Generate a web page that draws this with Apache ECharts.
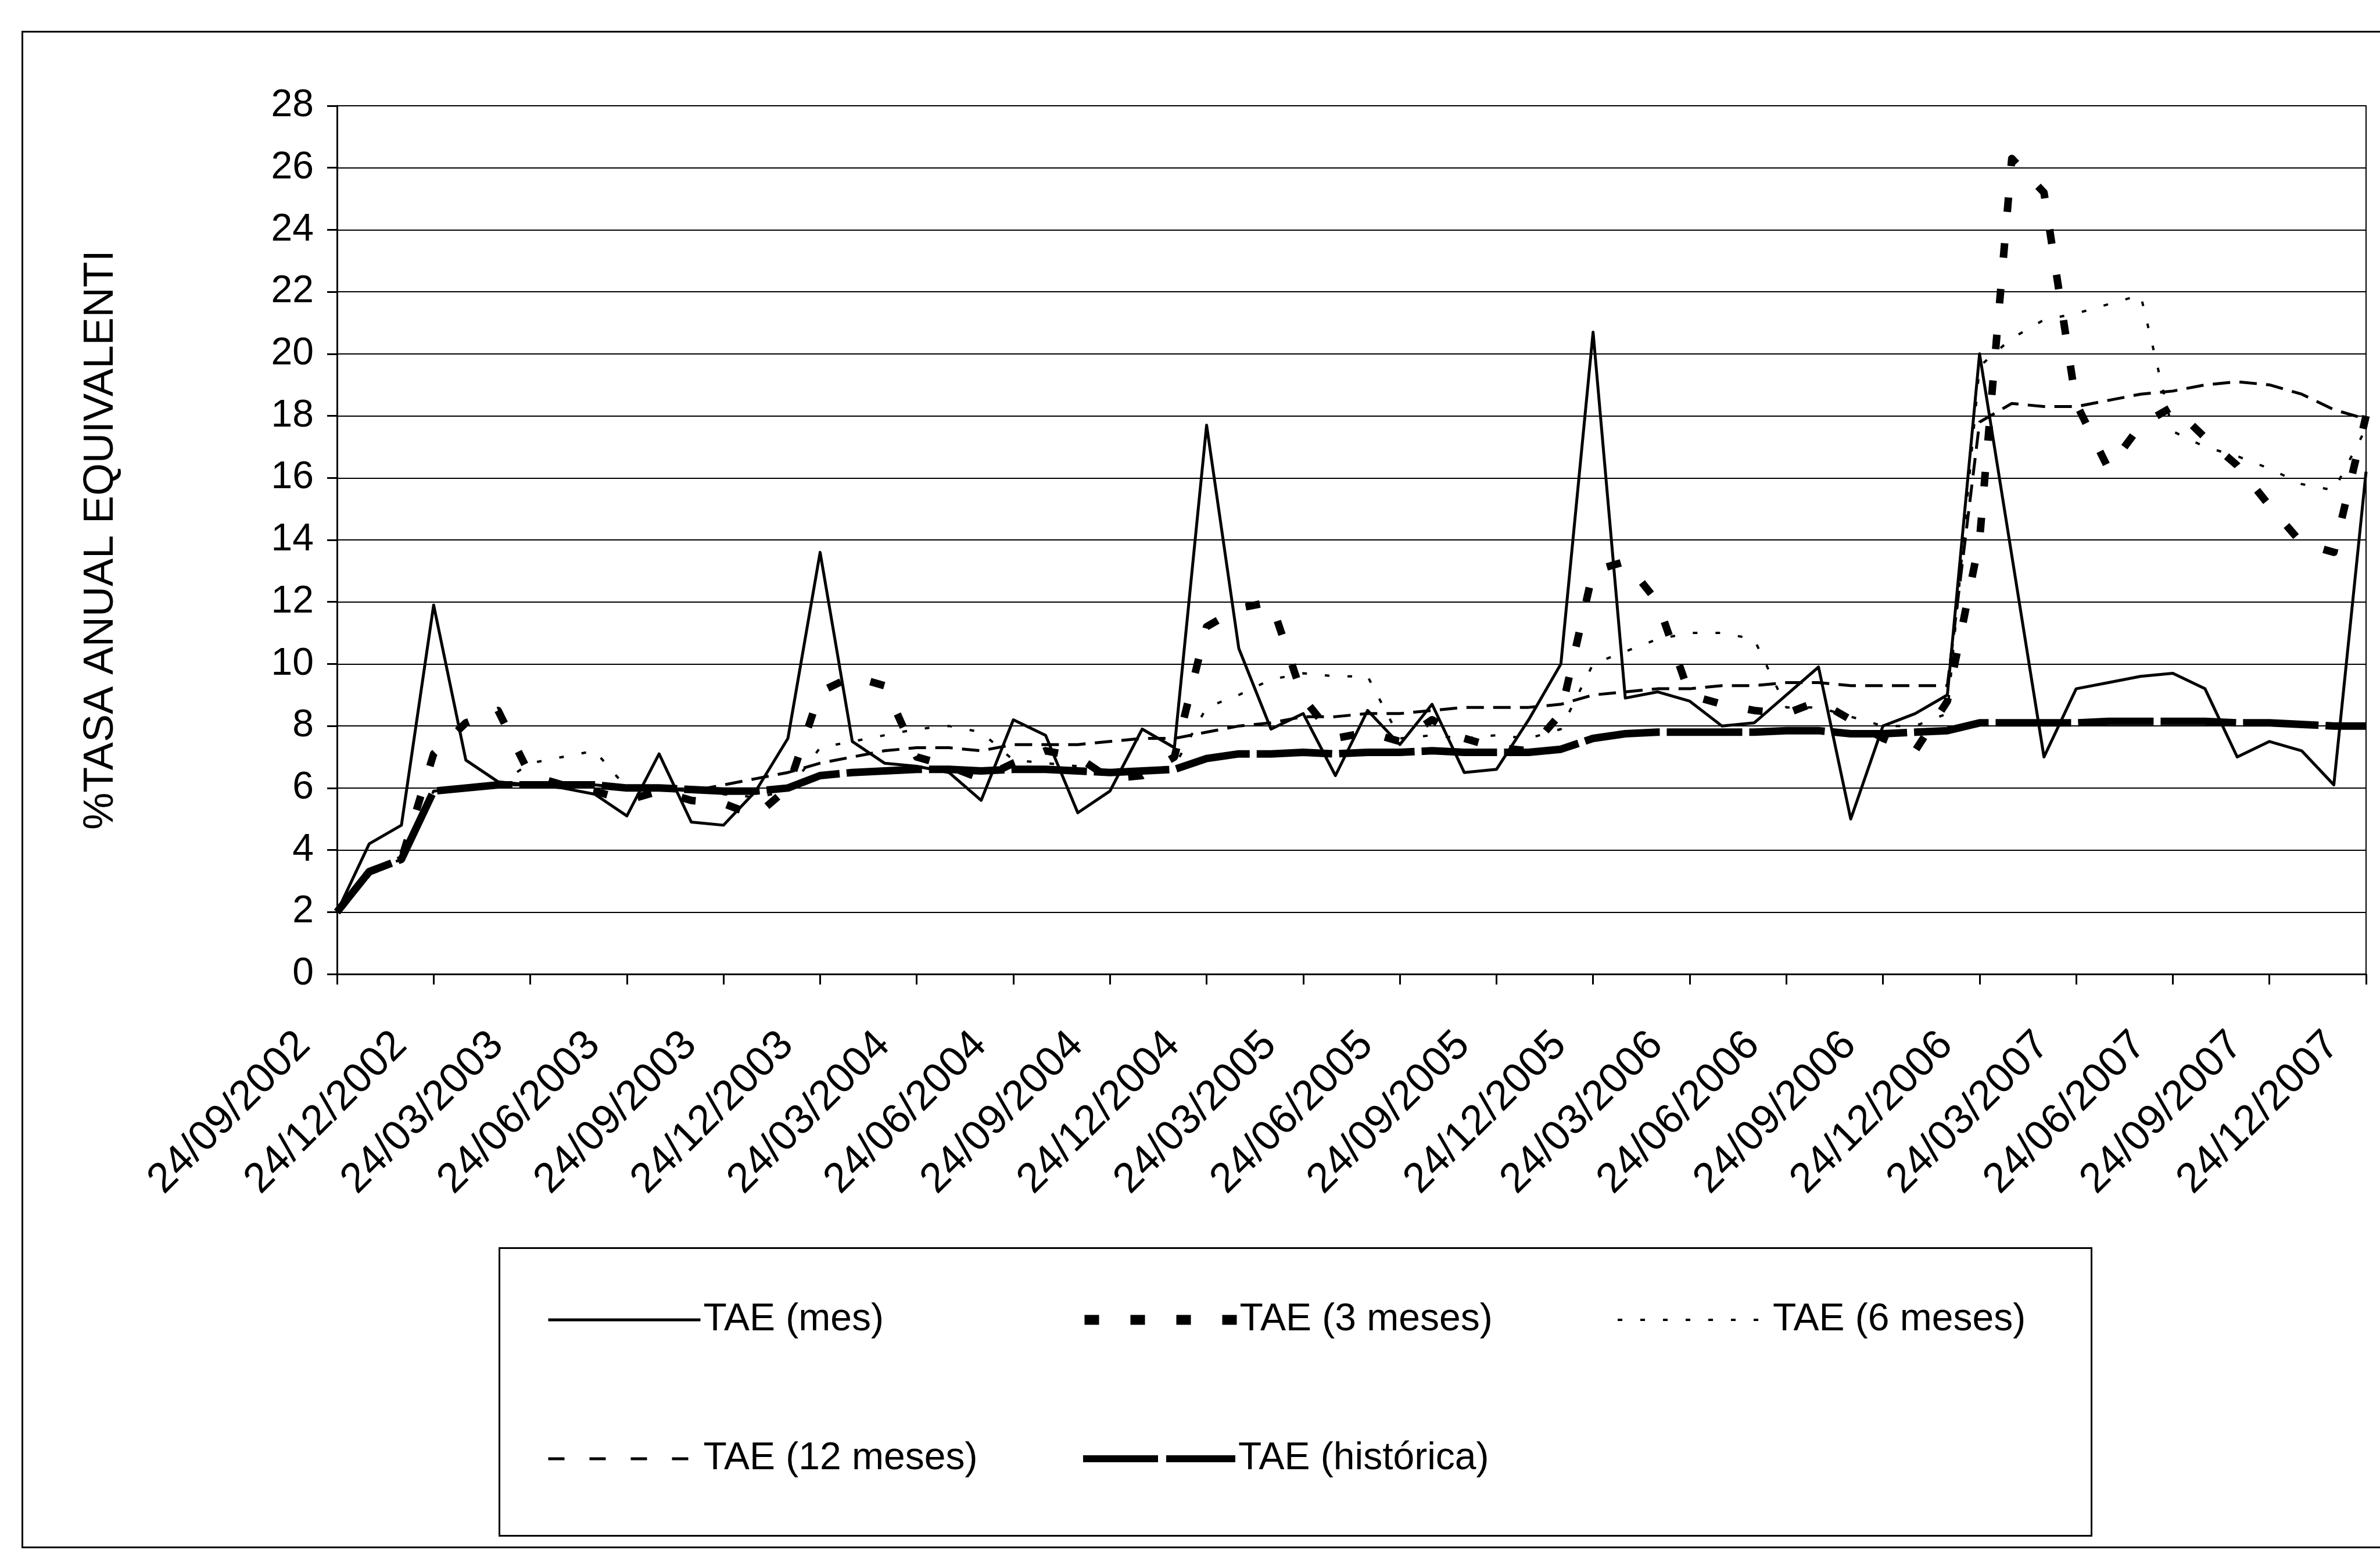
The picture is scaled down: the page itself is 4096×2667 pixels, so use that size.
<!DOCTYPE html>
<html>
<head>
<meta charset="utf-8">
<title>TAE</title>
<script src="https://cdn.jsdelivr.net/npm/echarts@6/dist/echarts.min.js"></script>
<style>
  html, body { margin: 0; padding: 0; background: #fff; }
  #main { width: 4096px; height: 2667px; }
</style>
</head>
<body>
<div id="main"></div>
<script>
// fechas mensuales (eje de categorías)
const fechas = [
  '24/09/2002', '24/10/2002', '24/11/2002', '24/12/2002',
  '24/01/2003', '24/02/2003', '24/03/2003', '24/04/2003', '24/05/2003', '24/06/2003',
  '24/07/2003', '24/08/2003', '24/09/2003', '24/10/2003', '24/11/2003', '24/12/2003',
  '24/01/2004', '24/02/2004', '24/03/2004', '24/04/2004', '24/05/2004', '24/06/2004',
  '24/07/2004', '24/08/2004', '24/09/2004', '24/10/2004', '24/11/2004', '24/12/2004',
  '24/01/2005', '24/02/2005', '24/03/2005', '24/04/2005', '24/05/2005', '24/06/2005',
  '24/07/2005', '24/08/2005', '24/09/2005', '24/10/2005', '24/11/2005', '24/12/2005',
  '24/01/2006', '24/02/2006', '24/03/2006', '24/04/2006', '24/05/2006', '24/06/2006',
  '24/07/2006', '24/08/2006', '24/09/2006', '24/10/2006', '24/11/2006', '24/12/2006',
  '24/01/2007', '24/02/2007', '24/03/2007', '24/04/2007', '24/05/2007', '24/06/2007',
  '24/07/2007', '24/08/2007', '24/09/2007', '24/10/2007', '24/11/2007', '24/12/2007'
]

const taeMes = [
  2.0, 4.2, 4.8, 11.9, 6.9, 6.2, 6.1, 6.0, 5.8, 5.1,
  7.1, 4.9, 4.8, 5.9, 7.6, 13.6, 7.5, 6.8, 6.7, 6.5,
  5.6, 8.2, 7.7, 5.2, 5.9, 7.9, 7.3, 17.7, 10.5, 7.9,
  8.4, 6.4, 8.5, 7.4, 8.7, 6.5, 6.6, 8.2, 10.0, 20.7,
  8.9, 9.1, 8.8, 8.0, 8.1, 9.0, 9.9, 5.0, 8.0, 8.4,
  9.0, 20.0, 13.5, 7.0, 9.2, 9.4, 9.6, 9.7, 9.2, 7.0,
  7.5, 7.2, 6.1, 16.2
]

const tae3Meses = [
  2.0, 3.3, 3.7, 7.1, 8.1, 8.5, 6.4, 6.1, 5.9, 5.6,
  5.9, 5.6, 5.5, 5.1, 6.0, 9.1, 9.6, 9.3, 7.0, 6.7,
  6.3, 6.8, 7.2, 7.0, 6.3, 6.4, 7.0, 11.2, 11.8, 12.0,
  8.9, 7.6, 7.8, 7.5, 8.2, 7.6, 7.3, 7.2, 8.4, 13.0,
  13.3, 12.0, 9.0, 8.7, 8.5, 8.4, 8.8, 8.2, 7.6, 7.2,
  8.8, 14.0, 26.3, 25.2, 18.4, 16.3, 17.7, 18.3, 17.3, 16.4,
  15.1, 13.9, 13.6, 18.0
]

const tae6Meses = [
  2.0, 3.3, 3.7, 5.9, 6.0, 6.1, 6.8, 7.0, 7.2, 6.0,
  6.0, 5.9, 5.8, 5.7, 5.9, 7.3, 7.5, 7.7, 7.9, 8.0,
  7.8, 6.9, 6.8, 6.7, 6.6, 6.6, 6.7, 8.6, 9.0, 9.5,
  9.7, 9.6, 9.6, 7.6, 7.7, 7.6, 7.7, 7.6, 7.9, 10.0,
  10.4, 10.8, 11.0, 11.0, 10.8, 8.6, 8.6, 8.3, 8.0, 8.0,
  8.4, 19.6, 20.5, 21.1, 21.3, 21.6, 21.9, 17.5, 17.0, 16.7,
  16.3, 15.8, 15.6, 17.6
]

const tae12Meses = [
  2.0, 3.3, 3.7, 5.9, 6.0, 6.1, 6.1, 6.1, 6.1, 6.0,
  6.0, 5.9, 6.1, 6.3, 6.5, 6.8, 7.0, 7.2, 7.3, 7.3,
  7.2, 7.4, 7.4, 7.4, 7.5, 7.6, 7.6, 7.8, 8.0, 8.1,
  8.3, 8.3, 8.4, 8.4, 8.5, 8.6, 8.6, 8.6, 8.7, 9.0,
  9.1, 9.2, 9.2, 9.3, 9.3, 9.4, 9.4, 9.3, 9.3, 9.3,
  9.3, 17.8, 18.4, 18.3, 18.3, 18.5, 18.7, 18.8, 19.0, 19.1,
  19.0, 18.7, 18.2, 17.9
]

const taeHistorica = [
  2.0, 3.3, 3.7, 5.9, 6.0, 6.1, 6.1, 6.1, 6.1, 6.0,
  6.0, 5.95, 5.9, 5.9, 6.0, 6.4, 6.5, 6.55, 6.6, 6.6,
  6.55, 6.6, 6.6, 6.55, 6.5, 6.55, 6.6, 6.95, 7.1, 7.1,
  7.15, 7.1, 7.15, 7.15, 7.2, 7.15, 7.15, 7.15, 7.25, 7.6,
  7.75, 7.8, 7.8, 7.8, 7.8, 7.85, 7.85, 7.75, 7.75, 7.8,
  7.85, 8.1, 8.1, 8.1, 8.1, 8.15, 8.15, 8.15, 8.15, 8.1,
  8.1, 8.05, 8.0, 8.0
]

const font = 'Liberation Sans, Arial, sans-serif'

// una leyenda por serie para colocarlas en dos filas como en el original
const leyenda = (nombre, left, top, lineStyle) => ({
  data: [nombre],
  left: left,
  top: top,
  padding: 0,
  itemWidth: 262,
  itemHeight: 20,
  selectedMode: false,
  textStyle: { fontFamily: font, fontSize: 66, color: '#000', lineHeight: 70 },
  itemStyle: { opacity: 0, borderWidth: 0 },
  lineStyle: lineStyle
})

const linea = (nombre, datos, estilo, z) => ({
  name: nombre,
  type: 'line',
  data: datos,
  symbol: 'none',
  z: z,
  lineStyle: Object.assign({ color: '#000', cap: 'butt', join: 'round' }, estilo),
  itemStyle: { color: '#000', opacity: 0 }
})

let option = {
  animation: false,
  backgroundColor: '#fff',
  graphic: [
    // borde del área del gráfico
    { type: 'rect', left: 36, top: 52, shape: { width: 4300, height: 2608 },
      style: { fill: 'none', stroke: '#000', lineWidth: 3 } },
    // recuadro de la leyenda
    { type: 'rect', left: 857, top: 2145, shape: { width: 2740, height: 495 },
      style: { fill: 'none', stroke: '#000', lineWidth: 3 } }
  ],
  grid: {
    left: 580, top: 182, right: 24, height: 1494,
    outerBoundsMode: 'none',
    containLabel: false,
    show: true, borderColor: '#000', borderWidth: 2
  },
  legend: [
    leyenda('TAE (mes)', 941, 2236, { width: 5, type: 'solid', opacity: 1 }),
    leyenda('TAE (3 meses)', 1858, 2236, { width: 17, type: [25, 54], cap: 'butt', opacity: 1 }),
    leyenda('TAE (6 meses)', 2782, 2236, { width: 4, type: [8, 31], cap: 'butt', opacity: 1 }),
    leyenda('TAE (12 meses)', 941, 2475, { width: 5, type: [28, 43], cap: 'butt', opacity: 1 }),
    leyenda('TAE (histórica)', 1858, 2475, { width: 12, type: [129, 14], cap: 'butt', opacity: 1 })
  ],
  xAxis: {
    type: 'category',
    data: fechas,
    boundaryGap: false,
    axisLine: { lineStyle: { color: '#000', width: 3 } },
    axisTick: { interval: 2, length: 18, lineStyle: { color: '#000', width: 3 } },
    axisLabel: {
      interval: 2,
      rotate: 45,
      margin: 54,
      padding: [0, 81, 0, 0],
      fontFamily: font,
      fontSize: 72,
      color: '#000'
    },
    splitLine: { show: false }
  },
  yAxis: {
    type: 'value',
    min: 0,
    max: 28,
    interval: 2,
    name: '%TASA ANUAL EQUIVALENTI',
    nameLocation: 'middle',
    nameGap: 370,
    nameRotate: 90,
    nameTextStyle: { fontFamily: font, fontSize: 72, color: '#000' },
    axisLine: { show: true, lineStyle: { color: '#000', width: 3 } },
    axisTick: { show: true, length: 17, lineStyle: { color: '#000', width: 3 } },
    axisLabel: { margin: 40, fontFamily: font, fontSize: 66, color: '#000' },
    splitLine: { show: true, lineStyle: { color: '#000', width: 2 } }
  },
  series: [
    linea('TAE (histórica)', taeHistorica, { width: 13, type: [130, 12] }, 2),
    linea('TAE (12 meses)', tae12Meses, { width: 5, type: [30, 16] }, 3),
    linea('TAE (6 meses)', tae6Meses, { width: 4, type: [8, 31] }, 4),
    linea('TAE (3 meses)', tae3Meses, { width: 13, type: [25, 54] }, 5),
    linea('TAE (mes)', taeMes, { width: 5, type: 'solid' }, 6)
  ]
}

const chart = echarts.init(document.getElementById('main'))
chart.setOption(option)
</script>
</body>
</html>
